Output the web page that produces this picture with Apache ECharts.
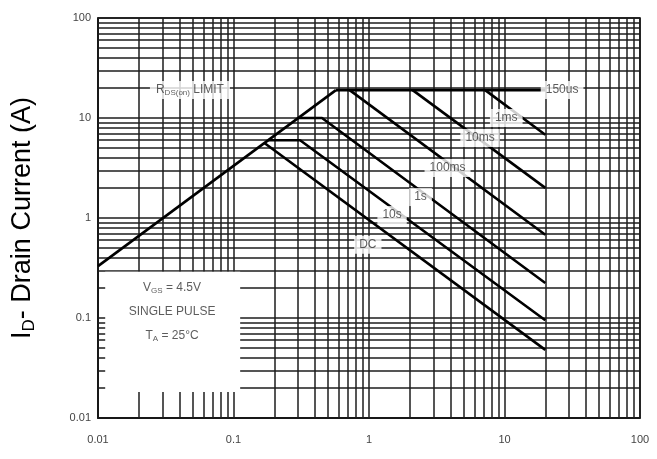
<!DOCTYPE html>
<html>
<head>
<meta charset="utf-8">
<script src="https://cdn.jsdelivr.net/npm/echarts@6/dist/echarts.min.js"></script>
<style>
  html, body { margin: 0; padding: 0; background: #fff; }
  #chart { width: 657px; height: 459px; }
</style>
</head>
<body>
<div id="chart"></div>
<script>
// Decade tick labels for the two log axes
const xTickLabels = ['0.01', '0.1', '1', '10', '100'];
const yTickLabels = ['0.01', '0.1', '1', '10', '100'];

// Safe operating area boundaries, points are [VDS (V), ID (A)]
const rdsLimit   = [[0.01, 0.33], [0.57, 19]];
const pulse150us = [[0.57, 19], [20, 19]];
const pulse1ms   = [[7.2, 19], [20, 6.8]];
const pulse10ms  = [[2.1, 19], [20, 2.0]];
const pulse100ms = [[0.72, 19], [20, 0.68]];
const pulse1s    = [[0.3, 10], [0.45, 10], [20, 0.224]];
const pulse10s   = [[0.18, 6], [0.31, 6], [20, 0.095]];
const pulseDC    = [[0.17, 5.6], [20, 0.048]];

const curveNames = ['150us', '1ms', '10ms', '100ms', '1s', '10s', 'DC'];
const curveData  = [pulse150us, pulse1ms, pulse10ms, pulse100ms, pulse1s, pulse10s, pulseDC];

// Log grid: 1..9 in every decade
const decades = [0.01, 0.1, 1, 10];
const gridValues = [];
decades.forEach(d => { for (let k = 1; k <= 9; k++) gridValues.push(+(d * k).toPrecision(3)); });
gridValues.push(100);

// Where each curve name is written (axis coordinates)
const tagSpots = {
  '150us': [26.6, 19],
  '1ms':   [10.3, 10],
  '10ms':  [6.6, 6.3],
  '100ms': [3.8, 3.16],
  '1s':    [2.4, 1.62],
  '10s':   [1.48, 1.07],
  'DC':    [0.98, 0.54]
};

const ink = '#000';
const gridLine = { color: '#1c1c1c', width: 1.5, type: 'solid' };

const curveSeries = curveData.map((d, i) => ({
  name: curveNames[i],
  type: 'line',
  data: d,
  showSymbol: false,
  lineStyle: { color: ink, width: 2.6 },
  z: 4,
  silent: true,
  animation: false
}));

const chart = echarts.init(document.getElementById('chart'), null, { renderer: 'canvas' });

chart.setOption({
  backgroundColor: '#fff',
  animation: false,
  grid: {
    left: 98, right: 17, top: 18, bottom: 41,
    show: true, borderColor: ink, borderWidth: 1.5, backgroundColor: 'transparent'
  },
  xAxis: {
    type: 'log', logBase: 10, min: 0.01, max: 100,
    axisLine: { show: true, lineStyle: { color: ink, width: 1.5 } },
    axisTick: { show: false },
    splitLine: { show: false },
    axisLabel: {
      margin: 16, color: '#444', fontSize: 11, fontFamily: 'Liberation Sans',
      formatter: v => xTickLabels[Math.round(Math.log10(v)) + 2]
    }
  },
  yAxis: {
    type: 'log', logBase: 10, min: 0.01, max: 100,
    name: '{a|I}{b|D}{a|- Drain Current (A)}',
    nameLocation: 'middle',
    nameRotate: 90,
    nameGap: 60,
    nameTextStyle: {
      rich: {
        a: { fontSize: 27, fontFamily: 'Liberation Sans', color: '#000', lineHeight: 30 },
        b: { fontSize: 17, fontFamily: 'Liberation Sans', color: '#000', lineHeight: 17, padding: [13, 0, 0, 0] }
      }
    },
    axisLine: { show: true, lineStyle: { color: ink, width: 1.5 } },
    axisTick: { show: false },
    splitLine: { show: false },
    axisLabel: {
      margin: 7, color: '#444', fontSize: 11, fontFamily: 'Liberation Sans',
      formatter: v => yTickLabels[Math.round(Math.log10(v)) + 2]
    }
  },
  series: [
    {
      // background log grid
      name: 'grid',
      type: 'line',
      data: [],
      z: 1,
      silent: true,
      markLine: {
        z: 1,
        silent: true,
        animation: false,
        symbol: ['none', 'none'],
        label: { show: false },
        lineStyle: gridLine,
        emphasis: { disabled: true },
        data: gridValues.map(v => ({ xAxis: v })).concat(gridValues.map(v => ({ yAxis: v })))
      }
    },
    {
      // blank panel behind the test conditions
      name: 'conditions panel',
      type: 'line',
      data: [],
      z: 3,
      silent: true,
      markArea: {
        z: 3,
        silent: true,
        animation: false,
        itemStyle: { color: '#fff', opacity: 1 },
        label: { show: false },
        emphasis: { disabled: true },
        data: [[{ coord: [0.0113, 0.0182] }, { coord: [0.112, 0.29] }]]
      }
    },
    {
      name: 'RDS limit',
      type: 'line',
      data: rdsLimit,
      showSymbol: false,
      lineStyle: { color: ink, width: 2.6 },
      z: 4,
      silent: true
    },
    ...curveSeries,
    {
      // curve names
      name: 'tags',
      type: 'scatter',
      symbolSize: 0,
      z: 6,
      silent: true,
      label: {
        show: true,
        position: 'inside',
        formatter: '{b}',
        color: '#333',
        fontSize: 12,
        fontFamily: 'Liberation Sans',
        backgroundColor: '#fff',
        padding: [3, 5]
      },
      data: curveNames.map(n => ({ name: n, value: tagSpots[n] })).concat([{
        name: 'RDS(on) LIMIT',
        value: [0.0477, 19],
        label: {
          formatter: '{m|R}{s|DS(on)}{m| LIMIT}',
          padding: [2, 6],
          rich: {
            m: { fontSize: 12, fontFamily: 'Liberation Sans', color: '#333', lineHeight: 14 },
            s: { fontSize: 8, fontFamily: 'Liberation Sans', color: '#333', lineHeight: 8, padding: [6, 0, 0, 0] }
          }
        }
      }])
    },
    {
      // test conditions
      name: 'conditions',
      type: 'scatter',
      symbolSize: 0,
      z: 6,
      silent: true,
      data: [{ name: 'conditions', value: [0.0352, 0.115] }],
      label: {
        show: true,
        position: 'inside',
        formatter: '{t|V}{s|GS}{t| = 4.5V}\n{t|SINGLE PULSE}\n{t|T}{s|A}{t| = 25°C}',
        align: 'center',
        rich: {
          t: { fontSize: 12, fontFamily: 'Liberation Sans', color: '#333', lineHeight: 24, align: 'center' },
          s: { fontSize: 8, fontFamily: 'Liberation Sans', color: '#333', lineHeight: 8, padding: [6, 0, 0, 0], align: 'center' }
        }
      }
    }
  ]
});
</script>
</body>
</html>
